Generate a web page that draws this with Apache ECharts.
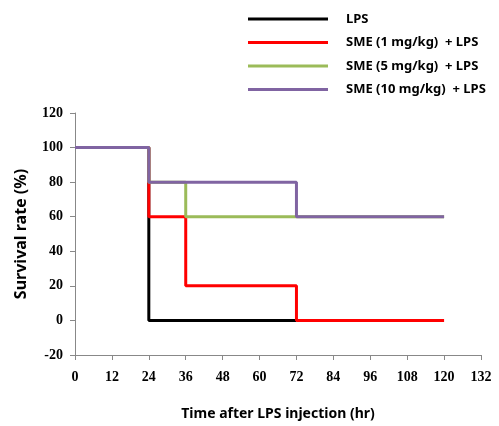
<!DOCTYPE html>
<html><head><meta charset="utf-8">
<script src="https://cdn.jsdelivr.net/npm/echarts@6/dist/echarts.min.js"></script>
<style>html,body{margin:0;padding:0;background:#fff}#c{width:499px;height:426px}</style>
</head><body><div id="c"></div>
<script>
const seriesNames = ['LPS', 'SME (1 mg/kg)  + LPS', 'SME (5 mg/kg)  + LPS', 'SME (10 mg/kg)  + LPS'];
const lpsX = [0, 24, 72];
const lpsY = [100, 0, 0];
const sme1X = [0, 24, 36, 72, 120];
const sme1Y = [100, 60, 20, 0, 0];
const sme5X = [0, 24, 36, 120];
const sme5Y = [100, 80, 60, 60];
const sme10X = [0, 24, 72, 120];
const sme10Y = [100, 80, 60, 60];
const colors = ['#000000', '#ff0000', '#9bbb59', '#8064a2'];

const xs = [lpsX, sme1X, sme5X, sme10X];
const ys = [lpsY, sme1Y, sme5Y, sme10Y];
const chart = echarts.init(document.getElementById('c'));
chart.setOption({
  animation: false,
  grid: {left: 75, right: 18, top: 113, bottom: 69},
  legend: {
    orient: 'vertical', left: 243, top: 6, itemWidth: 80, itemHeight: 3, itemGap: 7.5,
    icon: 'rect',
    textStyle: {fontFamily: 'Noto Sans', fontWeight: 'bold', fontSize: 13, lineHeight: 16, color: '#000', padding: [0, 0, 0, 13]},
    data: seriesNames
  },
  xAxis: {
    type: 'value', min: 0, max: 132, interval: 12,
    name: 'Time after LPS injection (hr)', nameLocation: 'middle', nameGap: 52,
    nameTextStyle: {fontFamily: 'Noto Sans', fontWeight: 'bold', fontSize: 14, color: '#000'},
    axisLine: {onZero: false, lineStyle: {color: '#888', width: 1}},
    axisTick: {show: true, length: 5, lineStyle: {color: '#888'}},
    axisLabel: {fontFamily: 'Liberation Serif', fontWeight: 'bold', fontSize: 14, color: '#000', margin: 15},
    splitLine: {show: false}
  },
  yAxis: {
    type: 'value', min: -20, max: 120, interval: 20,
    name: 'Survival rate (%)', nameLocation: 'middle', nameGap: 46, nameRotate: 90,
    nameTextStyle: {fontFamily: 'Noto Sans', fontWeight: 'bold', fontSize: 16, color: '#000'},
    axisLine: {show: true, lineStyle: {color: '#888', width: 1}},
    axisTick: {show: true, length: 5, lineStyle: {color: '#888'}},
    axisLabel: {fontFamily: 'Liberation Serif', fontWeight: 'bold', fontSize: 14, color: '#000', margin: 12},
    splitLine: {show: false}
  },
  series: seriesNames.map((n, i) => ({
    name: n, type: 'line', step: 'end', showSymbol: false, symbol: 'none',
    color: colors[i],
    lineStyle: {width: 3, color: colors[i]},
    data: xs[i].map((x, j) => [x, ys[i][j]]),
    z: 2 + i
  }))
});
</script></body></html>
